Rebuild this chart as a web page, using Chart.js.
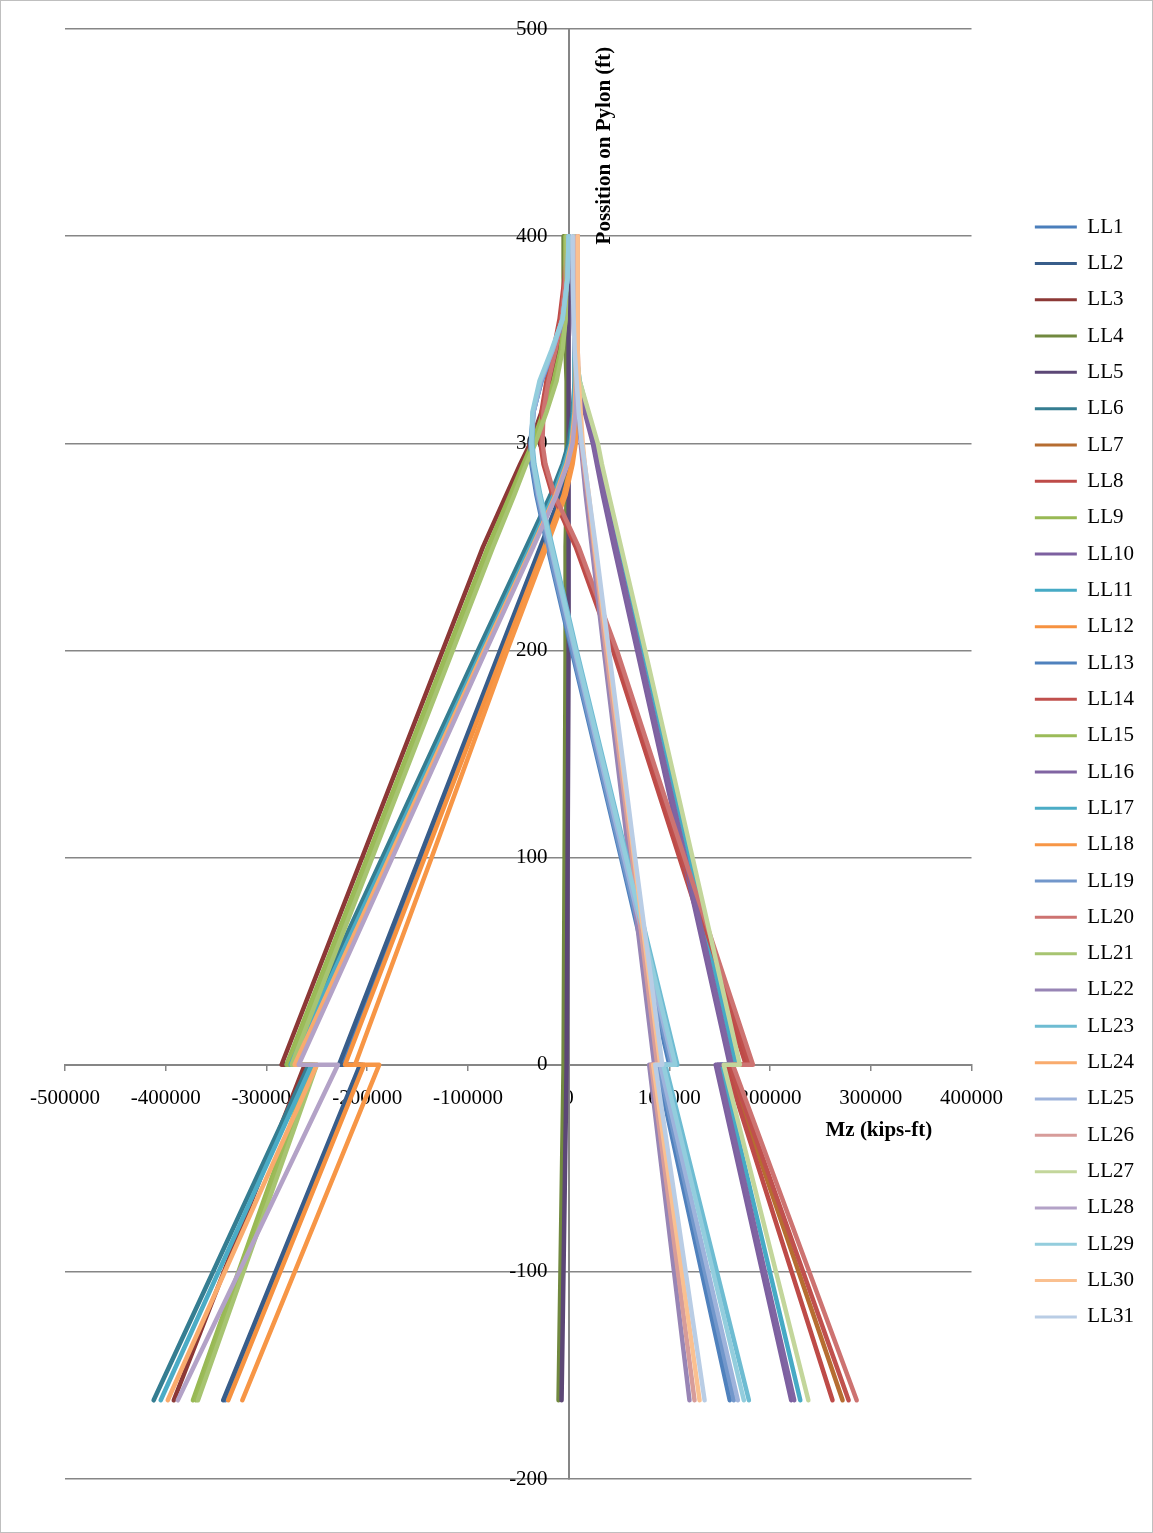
<!DOCTYPE html>
<html>
<head>
<meta charset="utf-8">
<script src="https://cdn.jsdelivr.net/npm/chart.js@4.4.0/dist/chart.umd.min.js"></script>
<style>
html, body { margin: 0; padding: 0; background: #fff; }
#wrap { width: 1153px; height: 1533px; position: relative; }
</style>
</head>
<body>
<div id="wrap"><canvas id="chart"></canvas></div>
<script>
// heights along the pylon (ft); the two zeros are the jump at deck level
const heights = [-162, 0, 0, 100, 200, 250, 275, 290, 300, 315, 330, 345, 360, 380, 400];

// Mz (kips-ft) at each height, one array per load case
const LL1  = [-341000, -205000, -226000, -146000, -66000, -26000, -6000, 2000, 5000, 7000, 8000, 8000, 8000, 8000, 8000];
const LL2  = [-343000, -207000, -228000, -148000, -68000, -28000, -8000, 1000, 4000, 6000, 7000, 7000, 7000, 7000, 7000];
const LL3  = [-392000, -262000, -285000, -205000, -125000, -85000, -62000, -48000, -38000, -27000, -17000, -9000, -5000, -4000, -4000];
const LL4  = [-10000, -5000, -5000, -4000, -3000, -3000, -2000, -2000, -2000, -2000, -2000, -3000, -4000, -5000, -5000];
const LL5  = [-7000, -2000, -2000, -1000, 0, 0, 0, 0, 0, 0, 0, 0, 0, 0, 0];
const LL6  = [-412000, -258000, -280000, -185000, -90000, -42000, -18000, -6000, 0, 4000, 6000, 6000, 6000, 6000, 6000];
const LL7  = [272000, 158000, 178000, 111000, 45000, 8000, -15000, -24000, -27000, -26000, -21000, -14000, -8000, -3000, -1000];
const LL8  = [262000, 156000, 176000, 110000, 44000, 7000, -16000, -25000, -28000, -27000, -22000, -15000, -9000, -4000, -2000];
const LL9  = [-373000, -255000, -280000, -200000, -120000, -80000, -58000, -45000, -36000, -25000, -15000, -8000, -4000, -3000, -3000];
const LL10 = [221000, 146000, 160000, 114000, 68000, 45000, 34000, 28000, 24000, 16000, 9000, 6000, 5000, 5000, 5000];
const LL11 = [230000, 151000, 166000, 120000, 74000, 51000, 39000, 32000, 28000, 19000, 11000, 7000, 6000, 6000, 6000];
const LL12 = [-338000, -203000, -222000, -143000, -64000, -24000, -5000, 3000, 6000, 8000, 9000, 9000, 9000, 9000, 9000];
const LL13 = [160000, 87000, 100000, 52000, 3000, -21000, -32000, -37000, -38000, -35000, -27000, -15000, -5000, -1000, 0];
const LL14 = [278000, 160000, 180000, 113000, 47000, 9000, -15000, -24000, -27000, -26000, -21000, -14000, -8000, -3000, -1000];
const LL15 = [-370000, -253000, -278000, -198000, -118000, -78000, -56000, -43000, -34000, -23000, -13000, -7000, -3000, -3000, -3000];
const LL16 = [224000, 148000, 162000, 116000, 70000, 47000, 36000, 29000, 25000, 17000, 9000, 6000, 5000, 5000, 5000];
const LL17 = [-405000, -255000, -276000, -181000, -86000, -38000, -15000, -4000, 2000, 5000, 6000, 6000, 6000, 6000, 6000];
const LL18 = [-324000, -188000, -212000, -136000, -61000, -22000, -3000, 4000, 7000, 9000, 9000, 9000, 9000, 9000, 9000];
const LL19 = [164000, 89000, 102000, 53000, 4000, -20000, -31000, -36000, -37000, -35000, -27000, -15000, -5000, -1000, 0];
const LL20 = [286000, 163000, 183000, 115000, 48000, 10000, -14000, -23000, -26000, -25000, -20000, -13000, -7000, -3000, -1000];
const LL21 = [-368000, -250000, -275000, -195000, -115000, -75000, -54000, -42000, -33000, -22000, -12000, -6000, -3000, -2000, -2000];
const LL22 = [120000, 80000, 85000, 60000, 35000, 23000, 17000, 14000, 12000, 10000, 9000, 8000, 8000, 8000, 8000];
const LL23 = [179000, 96000, 108000, 58000, 8000, -16000, -28000, -34000, -36000, -35000, -28000, -16000, -6000, -1000, 0];
const LL24 = [-398000, -250000, -272000, -178000, -84000, -36000, -13000, -2000, 3000, 6000, 7000, 7000, 7000, 7000, 7000];
const LL25 = [168000, 91000, 104000, 55000, 6000, -18000, -30000, -35000, -37000, -35000, -28000, -16000, -6000, -1000, 0];
const LL26 = [125000, 82000, 88000, 63000, 37000, 25000, 19000, 15000, 13000, 11000, 10000, 9000, 9000, 9000, 9000];
const LL27 = [238000, 154000, 170000, 123000, 76000, 52000, 40000, 33000, 29000, 20000, 11000, 7000, 6000, 6000, 6000];
const LL28 = [-388000, -229000, -268000, -175000, -82000, -35000, -12000, -1000, 4000, 7000, 8000, 8000, 8000, 8000, 8000];
const LL29 = [174000, 94000, 106000, 57000, 7000, -17000, -29000, -35000, -37000, -36000, -29000, -17000, -6000, -1000, 0];
const LL30 = [130000, 84000, 91000, 65000, 39000, 26000, 20000, 16000, 14000, 12000, 10000, 9000, 9000, 9000, 9000];
const LL31 = [135000, 86000, 93000, 66000, 40000, 27000, 20000, 16000, 13000, 10000, 8000, 6000, 5000, 4000, 4000];

const seriesNames = ['LL1','LL2','LL3','LL4','LL5','LL6','LL7','LL8','LL9','LL10','LL11','LL12','LL13','LL14','LL15','LL16',
  'LL17','LL18','LL19','LL20','LL21','LL22','LL23','LL24','LL25','LL26','LL27','LL28','LL29','LL30','LL31'];
const seriesValues = [LL1, LL2, LL3, LL4, LL5, LL6, LL7, LL8, LL9, LL10, LL11, LL12, LL13, LL14, LL15, LL16,
  LL17, LL18, LL19, LL20, LL21, LL22, LL23, LL24, LL25, LL26, LL27, LL28, LL29, LL30, LL31];
const seriesColors = ['#4A7EBB','#385D8A','#8C3836','#71893F','#5C4776','#357D91','#B66D31','#BE4B48','#98B954','#7D60A0',
  '#46AAC5','#F69240','#4F81BD','#C0504D','#9BBB59','#8064A2','#4BACC6','#F79646','#7297CB','#CD7371','#A7C471',
  '#9885B5','#6EBCD2','#F9AB6D','#9EB3DB','#D79C9A','#C3D69B','#B3A2C7','#93CDDD','#FAC090','#B9CDE5'];

Chart.defaults.font.family = "'Liberation Serif', 'Times New Roman', serif";
Chart.defaults.font.size = 21;
Chart.defaults.color = '#000';

const datasets = seriesNames.map((name, i) => ({
  label: name,
  data: heights.map((h, k) => ({ x: seriesValues[i][k], y: h })),
  borderColor: seriesColors[i],
  backgroundColor: seriesColors[i],
  borderWidth: 4.5,
  pointRadius: 0,
  showLine: true,
  fill: false,
  tension: 0,
  borderJoinStyle: 'round',
  borderCapStyle: 'round',
  order: seriesNames.length - i
}));

// move legend a bit right/down like the excel one
const legendShift = {
  id: 'legendShift',
  afterLayout(chart) {
    const lg = chart.legend;
    lg.left += 48; lg.right += 48;
    lg.top += 18; lg.bottom += 18;
  }
};

const extras = {
  id: 'extras',
  afterDraw(chart) {
    const ctx = chart.ctx;
    const xs = chart.scales.x, ys = chart.scales.y;
    ctx.save();
    ctx.strokeStyle = '#bfbfbf';
    ctx.lineWidth = 1;
    ctx.strokeRect(0.5, 0.5, chart.width - 1, chart.height - 1);
    ctx.fillStyle = '#000';
    ctx.font = "bold 21px 'Liberation Serif', 'Times New Roman', serif";
    ctx.textAlign = 'center';
    ctx.textBaseline = 'middle';
    ctx.fillText('Mz (kips-ft)', xs.getPixelForValue(308000), ys.getPixelForValue(-32));
    ctx.translate(xs.getPixelForValue(36000), ys.getPixelForValue(396));
    ctx.rotate(-Math.PI / 2);
    ctx.textAlign = 'left';
    ctx.fillText('Possition on Pylon (ft)', 0, 0);
    ctx.restore();
  }
};

new Chart(document.getElementById('chart'), {
  type: 'scatter',
  data: { datasets: datasets },
  options: {
    responsive: true,
    maintainAspectRatio: false,
    animation: false,
    layout: { padding: { left: 65, top: 29, bottom: 54, right: 57 } },
    scales: {
      x: {
        type: 'linear',
        min: -500000,
        max: 400000,
        position: { y: 0 },
        ticks: { stepSize: 100000, padding: 16, maxRotation: 0, autoSkip: false, callback: v => String(v) },
        grid: { drawOnChartArea: false, drawTicks: true, tickLength: 5, color: '#868686', lineWidth: 1.5 },
        border: { color: '#868686', width: 2 }
      },
      y: {
        type: 'linear',
        min: -200,
        max: 500,
        position: { x: 0 },
        // labels of a centred axis sit right on the line, so pad them with spaces
        ticks: { stepSize: 100, callback: v => String(v) + '    ' },
        grid: { color: '#868686', lineWidth: 1.5, drawTicks: false },
        border: { color: '#868686', width: 2 }
      }
    },
    plugins: {
      legend: {
        position: 'right',
        align: 'center',
        labels: {
          usePointStyle: true,
          pointStyle: 'line',
          pointStyleWidth: 42,
          padding: 15.33,
          color: '#000',
          font: { size: 21 },
          sort: (a, b) => a.datasetIndex - b.datasetIndex,
          generateLabels(chart) {
            const items = Chart.defaults.plugins.legend.labels.generateLabels(chart);
            items.forEach(it => { it.lineWidth = 3; });
            return items;
          }
        }
      },
      tooltip: { enabled: false }
    }
  },
  plugins: [legendShift, extras]
});
</script>
</body>
</html>
